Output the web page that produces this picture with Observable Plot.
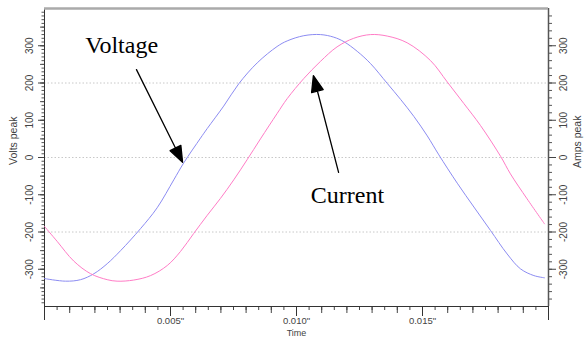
<!DOCTYPE html>
<html><head><meta charset="utf-8">
<script src="https://cdn.jsdelivr.net/npm/d3@7"></script>
<script src="https://cdn.jsdelivr.net/npm/@observablehq/plot@0.6"></script>
<style>body{margin:0;background:#fff;} svg{display:block;}</style>
</head><body><div id="chart"></div>
<script>
// ---- data ----
const voltT = [0, 0.00083, 0.00143, 0.00196, 0.00249, 0.00302, 0.00381, 0.00447, 0.00513, 0.00553, 0.00619, 0.00646, 0.00711, 0.00771, 0.00844, 0.00923, 0.00963, 0.01029, 0.01095, 0.01148, 0.01188, 0.01241, 0.01294, 0.0136, 0.01413, 0.01466, 0.01519, 0.01565, 0.01638, 0.01704, 0.0177, 0.01836, 0.01889, 0.01942, 0.01984];
const voltV = [-325, -332, -328, -312, -285, -250, -191, -135, -60, -14, 52, 78, 138, 198, 254, 298, 313, 327, 330, 323, 311, 285, 252, 199, 156, 110, 58, 7, -69, -133, -196, -259, -299, -317, -323];
const currT = [0, 0.0005, 0.00116, 0.00183, 0.00249, 0.00288, 0.00354, 0.00421, 0.00487, 0.0054, 0.00592, 0.00646, 0.00698, 0.00751, 0.00804, 0.00857, 0.00923, 0.00963, 0.01029, 0.01095, 0.01161, 0.01227, 0.01294, 0.0136, 0.01439, 0.01532, 0.01598, 0.01664, 0.0173, 0.0181, 0.01849, 0.01915, 0.01984];
const currV = [-185, -225, -278, -312, -328, -332, -329, -317, -290, -252, -204, -155, -110, -60, -6, 50, 118, 158, 212, 258, 297, 320, 330, 326, 308, 260, 203, 145, 86, 3, -44, -111, -178];
const yTickValues = [-300, -200, -100, 0, 100, 200, 300];
const xTickValues = [0.005, 0.010, 0.015];
const gridValues = [-200, 0, 200];
const noteText = ["Voltage", "Current"];
const noteT = [0.00306, 0.01202];
const noteV = [300, -102];
const arrowStartT = [0.00365, 0.01167];
const arrowStartV = [236, -40];
const arrowTipT = [0.00548, 0.01067];
const arrowTipV = [-13, 220];

// ---- layout ----
const W = 586, H = 338, mL = 44, mR = 38, mT = 8, mB = 32;
const xDomain = [0, 0.02], yDomain = [-400, 400];
const sx = d3.scaleLinear(xDomain, [mL, W - mR]);
const sy = d3.scaleLinear(yDomain, [H - mB, mT]);

const volt = voltT.map((t, i) => ({t, v: voltV[i]}));
const curr = currT.map((t, i) => ({t, v: currV[i]}));
const notes = noteText.map((s, i) => ({s, t: noteT[i], v: noteV[i]}));
const arrows = arrowStartT.map((t1, i) => {
  const dx = sx(arrowTipT[i]) - sx(t1), dy = sy(arrowTipV[i]) - sy(arrowStartV[i]);
  return {t: arrowTipT[i], v: arrowTipV[i], len: Math.hypot(dx, dy), rot: Math.atan2(dx, -dy) * 180 / Math.PI};
});
const arrowShape = {
  draw(ctx, l) {
    const h = 16, w = 6;
    ctx.moveTo(0, 0); ctx.lineTo(0, -(l - h));
    ctx.moveTo(0, -l); ctx.lineTo(w, -(l - h)); ctx.lineTo(-w, -(l - h)); ctx.closePath();
  }
};

const font = "Liberation Sans, Arial, sans-serif";
const serif = "Liberation Serif, Times New Roman, serif";
const fmtX = d => d.toFixed(3) + '"';

const chart = Plot.plot({
  width: W, height: H,
  marginLeft: mL, marginRight: mR, marginTop: mT, marginBottom: mB,
  style: {fontFamily: font, fontSize: "10px", color: "#444", background: "#fff"},
  x: {domain: xDomain, axis: null, label: null},
  y: {domain: yDomain, axis: null, label: null},
  length: {type: "identity"},
  marks: [
    Plot.ruleY(gridValues, {stroke: "#c8c8c8", strokeDasharray: "1.5,2"}),
    // left axis ticks
    Plot.axisY(d3.range(-39, 40).map(i => i * 10), {anchor: "left", tickSize: 2.5, tickFormat: () => "", stroke: "#555"}),
    Plot.axisY(d3.range(-7, 8).map(i => i * 50), {anchor: "left", tickSize: 4, tickFormat: () => "", stroke: "#555"}),
    Plot.axisY(yTickValues, {anchor: "left", tickSize: 6, tickFormat: () => "", stroke: "#444"}),
    // right axis ticks
    Plot.axisY(d3.range(-19, 20).map(i => i * 20), {anchor: "right", tickSize: 3, tickFormat: () => "", stroke: "#555"}),
    Plot.axisY(yTickValues, {anchor: "right", tickSize: 7, tickFormat: () => "", stroke: "#444"}),
    // bottom axis ticks
    Plot.axisX(d3.range(0, 41).map(i => i * 0.0005), {anchor: "bottom", tickSize: 4, tickFormat: () => "", stroke: "#444"}),
    Plot.axisX(d3.range(0, 21).map(i => i * 0.001), {anchor: "bottom", tickSize: 7, tickFormat: () => "", stroke: "#444"}),
    Plot.axisX([0, 0.02], {anchor: "bottom", tickSize: 14, tickFormat: () => "", stroke: "#333"}),
    Plot.axisX(xTickValues, {anchor: "bottom", tickSize: 10, tickPadding: 1, tickFormat: fmtX, stroke: "#333", fill: "#444", fontSize: 9.5}),
    // tick labels (rotated)
    Plot.text(yTickValues, {y: d => d, text: d => String(d), frameAnchor: "left", dx: -15, rotate: -90, textAnchor: "middle", lineAnchor: "middle", fill: "#444", fontSize: 10}),
    Plot.text(yTickValues, {y: d => d, text: d => String(d), frameAnchor: "right", dx: 15, rotate: -90, textAnchor: "middle", lineAnchor: "middle", fill: "#444", fontSize: 10}),
    // axis titles
    Plot.text(["Volts peak"], {y: 45, frameAnchor: "left", dx: -31, rotate: -90, textAnchor: "middle", lineAnchor: "middle", fill: "#444", fontSize: 10.5}),
    Plot.text(["Amps peak"], {y: 42, frameAnchor: "right", dx: 29, rotate: -90, textAnchor: "middle", lineAnchor: "middle", fill: "#444", fontSize: 10.5}),
    Plot.text(["Time"], {frameAnchor: "bottom", dy: 29, textAnchor: "middle", lineAnchor: "bottom", fill: "#444", fontSize: 9}),
    // frame
    Plot.ruleX([0], {stroke: "#333"}),
    Plot.ruleX([0.02], {stroke: "#555", strokeWidth: 1.5}),
    Plot.ruleY([-400], {stroke: "#333"}),
    Plot.ruleY([400], {stroke: "#aaa", strokeWidth: 2.5}),
    // series
    Plot.line(volt, {x: "t", y: "v", stroke: "#8c8cf2", strokeWidth: 1, curve: "catmull-rom"}),
    Plot.line(curr, {x: "t", y: "v", stroke: "#ff7cc6", strokeWidth: 1, curve: "catmull-rom"}),
    // annotations
    Plot.vector(arrows, {x: "t", y: "v", length: "len", rotate: "rot", anchor: "end", shape: arrowShape, stroke: "#000", fill: "#000", strokeWidth: 1.3}),
    Plot.text(notes, {x: "t", y: "v", text: "s", fontFamily: serif, fontSize: 24, fill: "#000", textAnchor: "middle", lineAnchor: "middle"})
  ]
});
document.getElementById("chart").appendChild(chart);
</script>
</body></html>
